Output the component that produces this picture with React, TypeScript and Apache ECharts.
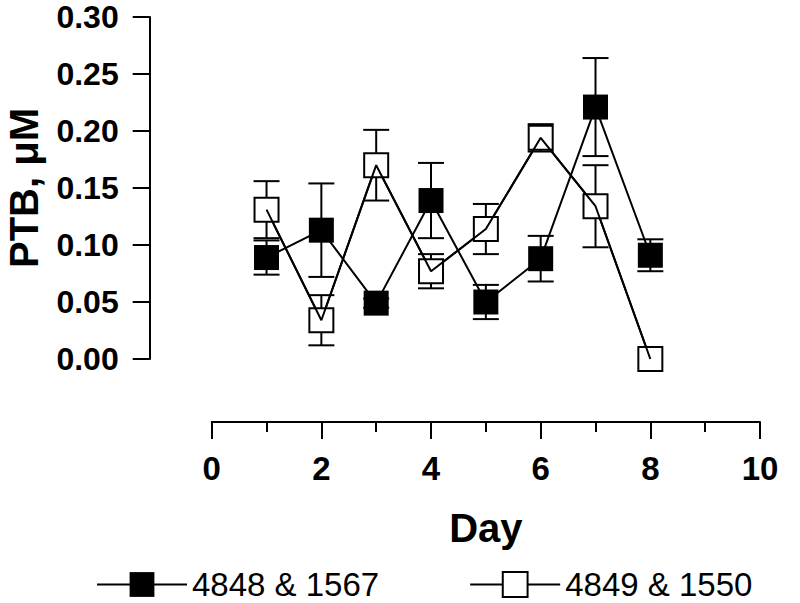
import React, { useEffect, useRef } from "react";
import * as echarts from "echarts";

const days = [1, 2, 3, 4, 5, 6, 7, 8];
const seriesAName = "4848 & 1567";
const seriesBName = "4849 & 1550";
const seriesA = [0.089, 0.113, 0.049, 0.139, 0.05, 0.088, 0.221, 0.091];
const errorA = [0.015, 0.041, 0.004, 0.033, 0.015, 0.02, 0.043, 0.014];
const seriesB = [0.131, 0.034, 0.17, 0.077, 0.114, 0.194, 0.134, 0.0];
const errorB = [0.025, 0.022, 0.031, 0.015, 0.022, 0.012, 0.036, 0.0];
const yTicks = [0, 0.05, 0.1, 0.15, 0.2, 0.25, 0.3];
const xTicks = [0, 2, 4, 6, 8, 10];

const SANS = "'Liberation Sans', Arial, Helvetica, sans-serif";

function errorSeries(vals: number[], errs: number[], z: number) {
  return {
    type: "custom",
    z,
    silent: true,
    data: days.map((d, i) => [d, vals[i], errs[i]]),
    renderItem: (params: any, api: any) => {
      const x = api.value(0);
      const y = api.value(1);
      const e = api.value(2);
      if (!e) return { type: "group", children: [] };
      const top = api.coord([x, y + e]);
      const bot = api.coord([x, y - e]);
      const hw = 13;
      const style = { stroke: "#000", lineWidth: 2 };
      return {
        type: "group",
        children: [
          { type: "line", shape: { x1: top[0], y1: top[1], x2: bot[0], y2: bot[1] }, style },
          { type: "line", shape: { x1: top[0] - hw, y1: top[1], x2: top[0] + hw, y2: top[1] }, style },
          { type: "line", shape: { x1: bot[0] - hw, y1: bot[1], x2: bot[0] + hw, y2: bot[1] }, style },
        ],
      };
    },
  };
}

export default function App() {
  const ref = useRef<HTMLDivElement>(null);
  useEffect(() => {
    document.body.style.margin = "0";
    const chart = echarts.init(ref.current!, null, { renderer: "svg" });
    const dataA = days.map((d, i) => [d, seriesA[i]]);
    const dataB = days.map((d, i) => [d, seriesB[i]]);
    chart.setOption({
      animation: false,
      backgroundColor: "#fff",
      grid: { left: 211.7, right: 40, top: 17, bottom: 244, outerBoundsMode: "none", containLabel: false },
      legend: {
        data: [seriesAName, seriesBName],
        left: 96,
        top: 568,
        padding: 0,
        itemWidth: 90,
        itemHeight: 31,
        itemGap: 90,
        selectedMode: false,
        textStyle: { fontSize: 33, lineHeight: 33, fontFamily: SANS, color: "#000" },
      },
      xAxis: {
        type: "value",
        min: xTicks[0],
        max: xTicks[xTicks.length - 1],
        interval: 2,
        offset: 63,
        axisLine: { show: true, onZero: false, lineStyle: { color: "#000", width: 2 } },
        axisTick: { show: true, length: 17, lineStyle: { color: "#000", width: 2 } },
        minorTick: { show: true, splitNumber: 2, length: 10, lineStyle: { color: "#000", width: 2 } },
        splitLine: { show: false },
        minorSplitLine: { show: false },
        axisLabel: { fontSize: 33, fontWeight: "bold", fontFamily: SANS, color: "#000", margin: 30 },
        name: "Day",
        nameLocation: "middle",
        nameGap: 86,
        nameTextStyle: { fontSize: 40, fontWeight: "bold", fontFamily: SANS, color: "#000" },
      },
      yAxis: {
        type: "value",
        min: yTicks[0],
        max: yTicks[yTicks.length - 1],
        interval: 0.05,
        offset: 62,
        axisLine: { show: true, onZero: false, lineStyle: { color: "#000", width: 2 } },
        axisTick: { show: true, length: 17, lineStyle: { color: "#000", width: 2 } },
        splitLine: { show: false },
        axisLabel: {
          fontSize: 32,
          lineHeight: 32,
          fontWeight: "bold",
          fontFamily: SANS,
          color: "#000",
          margin: 31,
          formatter: (v: number) => v.toFixed(2),
        },
        name: "PTB, μM",
        nameLocation: "middle",
        nameRotate: 90,
        nameGap: 106,
        nameTextStyle: { fontSize: 40, fontWeight: "bold", fontFamily: SANS, color: "#000" },
      },
      series: [
        errorSeries(seriesA, errorA, 1),
        errorSeries(seriesB, errorB, 1),
        {
          name: seriesAName,
          type: "line",
          z: 2,
          data: dataA,
          symbol: "rect",
          symbolSize: 25,
          itemStyle: { color: "#000" },
          lineStyle: { color: "#000", width: 2 },
        },
        {
          name: seriesBName,
          type: "line",
          z: 3,
          data: dataB,
          symbol: "rect",
          symbolSize: 24,
          itemStyle: { color: "#fff", borderColor: "#000", borderWidth: 2 },
          lineStyle: { color: "#000", width: 2 },
        },
        {
          name: "overlay",
          type: "line",
          z: 4,
          silent: true,
          data: dataB,
          symbol: "none",
          lineStyle: { color: "#000", width: 2 },
        },
      ],
    });
    return () => chart.dispose();
  }, []);
  return <div ref={ref} style={{ width: 800, height: 603 }} />;
}
